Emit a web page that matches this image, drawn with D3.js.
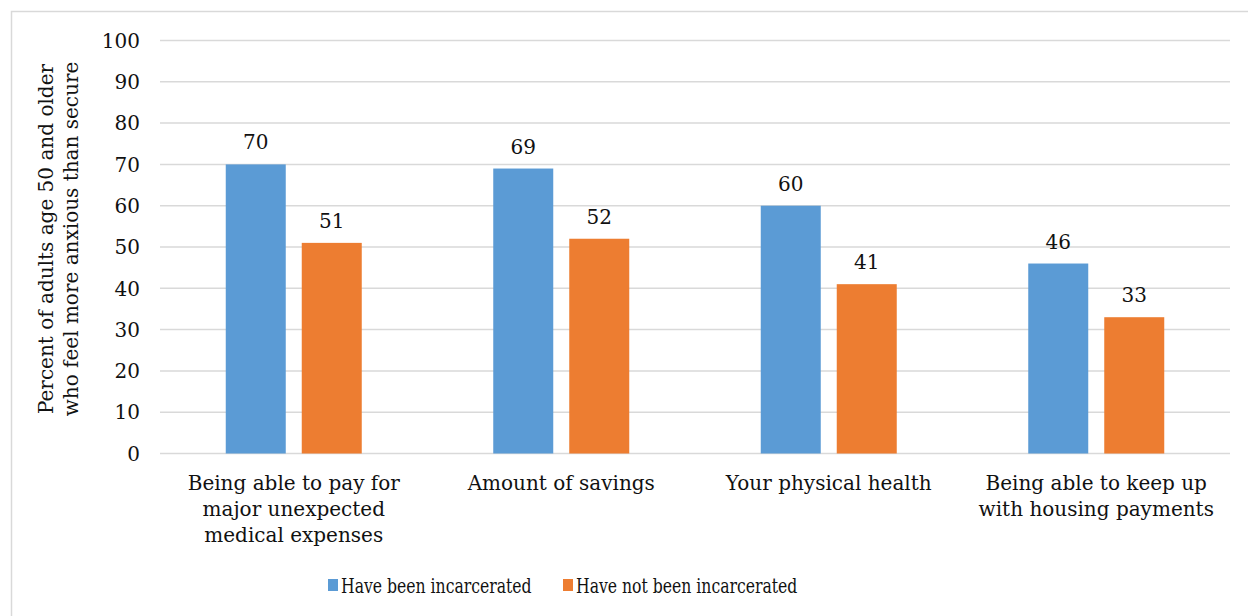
<!DOCTYPE html>
<html>
<head>
<meta charset="utf-8">
<script src="https://cdn.jsdelivr.net/npm/d3@7"></script>
<style>
  body { margin: 0; background: #fff; }
  svg text { font-family: "DejaVu Serif", serif; fill: #111; }
</style>
</head>
<body>
<svg id="chart"></svg>
<script>
// Chart data
const categories = [
    ["Being able to pay for", "major unexpected", "medical expenses"],
    ["Amount of savings"],
    ["Your physical health"],
    ["Being able to keep up", "with housing payments"]
];
const seriesNames = ["Have been incarcerated", "Have not been incarcerated"];
const incarcerated = [70, 69, 60, 46];
const notIncarcerated = [51, 52, 41, 33];
const yTicks = [0, 10, 20, 30, 40, 50, 60, 70, 80, 90, 100];
const yTitle = ["Percent of adults age 50 and older", "who feel more anxious than secure"];

const colors = ["#5B9BD5", "#ED7D31"];
const width = 1248, height = 616;
const fs = "20px";

const svg = d3.select("#chart")
    .attr("width", width)
    .attr("height", height);

// chart border
svg.append("rect")
    .attr("x", 11.5).attr("y", 11.5)
    .attr("width", 1260).attr("height", 640)
    .attr("fill", "none")
    .attr("stroke", "#D9D9D9")
    .attr("stroke-width", 1.5);

const plot = { left: 160, right: 1230, top: 40.5, bottom: 453.5 };

const x0 = d3.scaleBand()
    .domain(d3.range(categories.length))
    .range([plot.left, plot.right]);

const y = d3.scaleLinear()
    .domain([0, 100])
    .range([plot.bottom, plot.top]);

// gridlines
svg.append("g")
    .selectAll("line")
    .data(yTicks)
    .join("line")
    .attr("x1", plot.left).attr("x2", plot.right)
    .attr("y1", d => y(d)).attr("y2", d => y(d))
    .attr("stroke", "#D9D9D9")
    .attr("stroke-width", 1.5);

// y axis labels
svg.append("g")
    .selectAll("text")
    .data(yTicks)
    .join("text")
    .attr("x", 140)
    .attr("y", d => y(d))
    .attr("dy", "0.36em")
    .attr("text-anchor", "end")
    .style("font-size", fs)
    .text(d => d);

// y axis title
const yt = svg.append("text")
    .attr("transform", `translate(53,${(plot.top + plot.bottom) / 2 - 8}) rotate(-90)`)
    .attr("text-anchor", "middle")
    .style("font-size", fs);
yt.selectAll("tspan")
    .data(yTitle)
    .join("tspan")
    .attr("x", 0)
    .attr("dy", (d, i) => i === 0 ? 0 : "1.25em")
    .text(d => d);

// bars
const barW = 60, barGap = 16;
const series = [incarcerated, notIncarcerated];

series.forEach((vals, s) => {
    const g = svg.append("g");
    const xPos = i => x0(i) + x0.bandwidth() / 2 + (s === 0 ? -barGap / 2 - barW : barGap / 2);
    g.selectAll("rect")
        .data(vals)
        .join("rect")
        .attr("x", (d, i) => xPos(i))
        .attr("y", d => y(d))
        .attr("width", barW)
        .attr("height", d => y(0) - y(d))
        .attr("fill", colors[s]);
    g.selectAll("text")
        .data(vals)
        .join("text")
        .attr("x", (d, i) => xPos(i) + barW / 2)
        .attr("y", d => y(d) - 15)
        .attr("text-anchor", "middle")
        .style("font-size", fs)
        .text(d => d);
});

// category labels
const cat = svg.append("g")
    .selectAll("text")
    .data(categories)
    .join("text")
    .attr("x", (d, i) => x0(i) + x0.bandwidth() / 2)
    .attr("y", 490)
    .attr("text-anchor", "middle")
    .style("font-size", fs);
cat.selectAll("tspan")
    .data(d => d)
    .join("tspan")
    .attr("x", function () { return this.parentNode.getAttribute("x"); })
    .attr("dy", (d, i) => i === 0 ? 0 : 26)
    .text(d => d);

// legend
const legendX = [328, 563];
const legend = svg.append("g")
    .selectAll("g")
    .data(seriesNames)
    .join("g")
    .attr("transform", (d, i) => `translate(${legendX[i]},579)`);
legend.append("rect")
    .attr("width", 10).attr("height", 12)
    .attr("fill", (d, i) => colors[i]);
legend.append("text")
    .attr("transform", "translate(13,14) scale(0.87,1)")
    .style("font-size", fs)
    .style("font-stretch", "condensed")
    .text(d => d);
</script>
</body>
</html>
